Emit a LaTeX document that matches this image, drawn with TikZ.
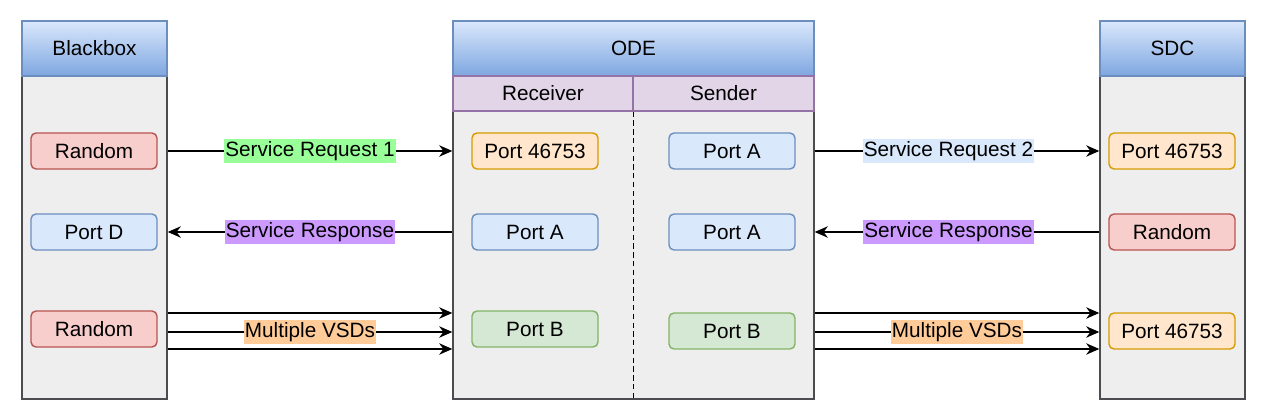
\documentclass[tikz,border=0pt]{standalone}
\usepackage{fontspec}
\setmainfont{Liberation Sans}
\usetikzlibrary{arrows.meta}
\definecolor{hdtop}{HTML}{DAE8FC}
\definecolor{hdbot}{HTML}{7EA6E0}
\definecolor{hdline}{HTML}{6C8EBF}
\definecolor{bodyfill}{HTML}{EEEEEE}
\definecolor{bodyline}{HTML}{4A4C50}
\definecolor{subfill}{HTML}{E1D5E7}
\definecolor{subline}{HTML}{9673A6}
\definecolor{redfill}{HTML}{F8CECC}
\definecolor{redline}{HTML}{B85450}
\definecolor{bluefill}{HTML}{DAE8FC}
\definecolor{blueline}{HTML}{6C8EBF}
\definecolor{orangefill}{HTML}{FFE6CC}
\definecolor{orangeline}{HTML}{D79B00}
\definecolor{greenfill}{HTML}{D5E8D4}
\definecolor{greenline}{HTML}{82B366}
\definecolor{lblgreen}{HTML}{99FF99}
\definecolor{lblpurple}{HTML}{CC99FF}
\definecolor{lblorange}{HTML}{FFCC99}
\definecolor{lblblue}{HTML}{DAE8FC}
\tikzset{
  lane/.style={draw=bodyline, fill=bodyfill, line width=0.8pt, minimum width=2.9cm, minimum height=7.56cm, inner sep=0pt},
  hdr/.style={draw=hdline, top color=hdtop, bottom color=hdbot, line width=0.8pt, minimum height=1.1cm, inner sep=0pt},
  part/.style={draw=subline, fill=subfill, line width=0.8pt, minimum height=0.7cm, inner sep=0pt},
  port/.style={draw=#1line, fill=#1fill, rounded corners=0.1cm, line width=0.8pt, minimum width=2.52cm, minimum height=0.72cm, inner sep=0pt},
  msg/.style={-{Stealth[length=7.5pt,width=6.5pt]}, line width=0.8pt},
  lbl/.style={fill=#1, inner xsep=0.6pt, inner ysep=1.4pt}
}

\begin{document}
\begin{tikzpicture}[x=0.02cm,y=-0.02cm,font=\fontsize{11.8}{14}\selectfont]
\useasboundingbox (0,0) rectangle (1262,418);

\node (bb) [lane] at (94.5,210) {};
\node (bbh) [hdr, minimum width=2.9cm] at (94.5,48.5) {Blackbox};
\node (ode) [lane, minimum width=7.22cm] at (633.5,210) {};
\node (odeh) [hdr, minimum width=7.22cm] at (633.5,48.5) {ODE};
\node (rec) [part, minimum width=3.6cm] at (543,93.5) {Receiver};
\node (snd) [part, minimum width=3.62cm] at (723.5,93.5) {Sender};
\node (sdc) [lane] at (1172.5,210) {};
\node (sdch) [hdr, minimum width=2.9cm] at (1172.5,48.5) {SDC};
\draw [dash pattern=on 3pt off 2pt, line width=0.9pt] (rec.south east) -- (rec.south east |- ode.south);

\node (bb1) [port=red] at (94,151) {Random};
\node (bb2) [port=blue] at (94,232) {Port D};
\node (bb3) [port=red] at (94,329) {Random};
\node (rc1) [port=orange] at (535,151) {Port 46753};
\node (rc2) [port=blue] at (535,232) {Port A};
\node (rc3) [port=green] at (535,329) {Port B};
\node (sd1) [port=blue] at (732,151) {Port A};
\node (sd2) [port=blue] at (732,232) {Port A};
\node (sd3) [port=green] at (732,331) {Port B};
\node (sc1) [port=orange] at (1172,151) {Port 46753};
\node (sc2) [port=red] at (1172,232) {Random};
\node (sc3) [port=orange] at (1172,331) {Port 46753};

\coordinate (v1) at (0,313);
\coordinate (v2) at (0,332);
\coordinate (v3) at (0,349);

\draw [msg] (bb.east |- bb1) -- node [lbl=lblgreen] {Service Request 1} (ode.west |- bb1);
\draw [msg] (ode.west |- bb2) -- node [lbl=lblpurple] {Service Response} (bb.east |- bb2);
\draw [msg] (bb.east |- v1) -- (ode.west |- v1);
\draw [msg] (bb.east |- v2) -- node [lbl=lblorange] {Multiple VSDs} (ode.west |- v2);
\draw [msg] (bb.east |- v3) -- (ode.west |- v3);

\draw [msg] (ode.east |- sd1) -- node [lbl=lblblue, pos=0.47] {Service Request 2} (sdc.west |- sd1);
\draw [msg] (sdc.west |- sd2) -- node [lbl=lblpurple, pos=0.53] {Service Response} (ode.east |- sd2);
\draw [msg] (ode.east |- v1) -- (sdc.west |- v1);
\draw [msg] (ode.east |- v2) -- node [lbl=lblorange] {Multiple VSDs} (sdc.west |- v2);
\draw [msg] (ode.east |- v3) -- (sdc.west |- v3);

\end{tikzpicture}
\end{document}
